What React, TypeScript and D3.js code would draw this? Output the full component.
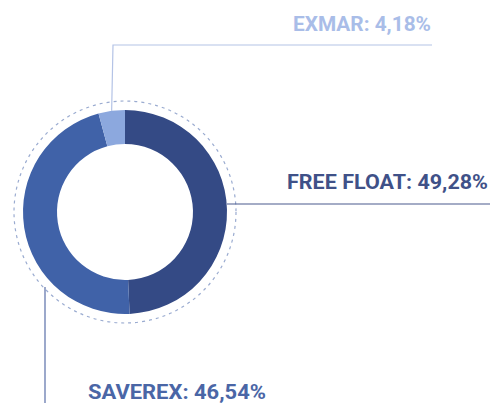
import React from "react";
import * as d3 from "d3";

const categories = ["FREE FLOAT", "SAVEREX", "EXMAR"];
const values = [49.28, 46.54, 4.18];
const labels = ["FREE FLOAT: 49,28%", "SAVEREX: 46,54%", "EXMAR: 4,18%"];
const colors = ["#344a85", "#4062a8", "#8ca8de"];
const textColors = ["#3f5188", "#4a66a6", "#a9bde8"];

export default function App() {
  const W = 492, H = 403;
  const cx = 125, cy = 212;
  const outerR = 102, innerR = 68, dashR = 111;

  const pie = d3.pie<number>().sort(null).startAngle(0).endAngle(2 * Math.PI);
  const arcs = pie(values);
  const arc = d3.arc<d3.PieArcDatum<number>>().innerRadius(innerR).outerRadius(outerR);

  const pt = (a: number, r: number) => [cx + r * Math.sin(a), cy - r * Math.cos(a)];

  const exA = (arcs[2].startAngle + arcs[2].endAngle) / 2;
  const exP = pt(exA, outerR);
  const ffP = pt(Math.PI / 2, outerR);
  const svA = arcs[1].startAngle + (arcs[1].endAngle - arcs[1].startAngle) * 0.27;
  const svP = pt(svA, outerR);

  return (
    <svg width={W} height={H} style={{ position: "absolute", left: 0, top: 0, background: "#fff" }}>
      <circle cx={cx} cy={cy} r={dashR} fill="none" stroke="#9aabd0" strokeWidth={1.2} strokeDasharray="3 4" />
      <g transform={`translate(${cx},${cy})`}>
        {arcs.map((a, i) => (
          <path key={categories[i]} d={arc(a) || ""} fill={colors[i]} />
        ))}
      </g>
      <polyline points={`${exP[0]},${exP[1]} 113,45 432,45`} fill="none" stroke="#b4c3e6" strokeWidth={1.2} />
      <text x={431} y={31} textAnchor="end" fontFamily="Roboto, sans-serif" fontWeight={700} fontSize={20}
        fill={textColors[2]} textLength={138} lengthAdjust="spacingAndGlyphs">{labels[2]}</text>
      <line x1={ffP[0]} y1={204} x2={490} y2={204} stroke="#4a5a8e" strokeWidth={1.2} />
      <text x={488} y={189} textAnchor="end" fontFamily="Roboto, sans-serif" fontWeight={700} fontSize={20}
        fill={textColors[0]} textLength={201} lengthAdjust="spacingAndGlyphs">{labels[0]}</text>
      <line x1={45} y1={svP[1]} x2={45} y2={403} stroke="#5a6fa8" strokeWidth={1.2} />
      <text x={88} y={399} fontFamily="Roboto, sans-serif" fontWeight={700} fontSize={20}
        fill={textColors[1]} textLength={178} lengthAdjust="spacingAndGlyphs">{labels[1]}</text>
    </svg>
  );
}
